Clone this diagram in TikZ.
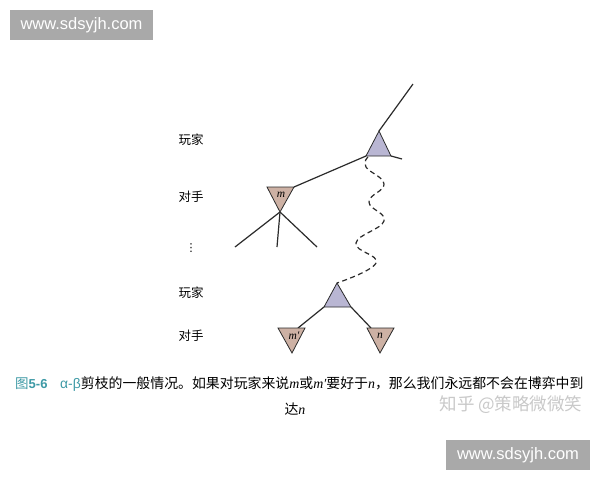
\documentclass[tikz,border=0pt]{standalone}
\usepackage{fontspec}
\setmainfont{Liberation Serif}
\newfontfamily\cjk{Noto Sans CJK SC}
\newfontfamily\wmfont{Liberation Sans}
\newfontfamily\symfont{DejaVu Sans}
\definecolor{wmgray}{HTML}{A9A9A9}
\definecolor{zhgray}{HTML}{C9C9C9}
\definecolor{capteal}{HTML}{3E9AA6}
\definecolor{maxfill}{HTML}{B9B6D3}
\definecolor{minfill}{HTML}{CDB1A4}
\definecolor{ink}{HTML}{2B2B2B}
\begin{document}
\begin{tikzpicture}[x=1pt,y=-1pt,
  wmbox/.style={fill=wmgray,text=white,minimum width=143pt,minimum height=30pt,inner sep=0pt,font=\wmfont\fontsize{16.5}{16.5}\selectfont},
  rowlabel/.style={font=\cjk\fontsize{12.5}{12.5}\selectfont,inner sep=0pt},
  edge/.style={draw=ink,line width=1.2pt},
  maxtri/.style={draw=ink,line width=0.8pt,fill=maxfill,line join=miter},
  mintri/.style={draw=ink,line width=0.8pt,fill=minfill,line join=miter},
  trilabel/.style={inner sep=0pt,font=\rmfamily\itshape\fontsize{11.5}{11.5}\selectfont},
  wavy/.style={draw=ink,line width=1.2pt,dash pattern=on 5pt off 3.5pt}
]
\useasboundingbox (0,0) rectangle (600,480);
\fill[white] (0,0) rectangle (600,480);

% watermarks
\node[wmbox] (wm1) at (81.5,25) {www.sdsyjh.com};
\node[wmbox,minimum width=144pt] (wm2) at (518,455) {www.sdsyjh.com};
\node[text=zhgray,inner sep=0pt,font=\cjk\fontsize{17.5}{17.5}\selectfont] (zh) at (511,405) {知乎 @策略微微笑};

% row labels
\node[rowlabel] (l1) at (191,140) {玩家};
\node[rowlabel] (l2) at (191,197) {对手};
\node[inner sep=0pt,font=\symfont\fontsize{11}{11}\selectfont] (l3) at (191,248) {⋮};
\node[rowlabel] (l4) at (191,293) {玩家};
\node[rowlabel] (l5) at (191,336) {对手};

% coordinates
\coordinate (topend) at (413,84);
\coordinate (Ta) at (379,131);
\coordinate (Tl) at (366,156);
\coordinate (Tr) at (391,156);
\coordinate (Tright) at (402,159);
\coordinate (Ml) at (267,187);
\coordinate (Mr) at (294,187);
\coordinate (Mb) at (280,212);
\coordinate (c1) at (235,247);
\coordinate (c2) at (277,247);
\coordinate (c3) at (317,247);
\coordinate (Ba) at (337,283);
\coordinate (Bl) at (324,307);
\coordinate (Br) at (351,307);
\coordinate (Pl) at (278,328);
\coordinate (Pr) at (305,328);
\coordinate (Pb) at (292,353);
\coordinate (Pin) at (298,328);
\coordinate (Nl) at (367,328);
\coordinate (Nr) at (394,328);
\coordinate (Nb) at (380,353);
\coordinate (Nin) at (371,328);
\coordinate (wstart) at (368,157);

% edges
\draw[edge] (topend) -- (Ta);
\draw[edge] (Tr) -- (Tright);
\draw[edge] (Tl) -- (Mr);
\draw[edge] (Mb) -- (c1);
\draw[edge] (Mb) -- (c2);
\draw[edge] (Mb) -- (c3);
\draw[edge] (Bl) -- (Pin);
\draw[edge] (Br) -- (Nin);
\draw[wavy] plot[smooth,tension=0.75] coordinates {(wstart) (366,167) (384,184) (369,202) (384,221) (356,243) (376,263) (Ba)};

% triangles
\draw[maxtri] (Ta) -- (Tl) -- (Tr) -- cycle;
\draw[mintri] (Ml) -- (Mr) -- (Mb) -- cycle;
\draw[maxtri] (Ba) -- (Bl) -- (Br) -- cycle;
\draw[mintri] (Pl) -- (Pr) -- (Pb) -- cycle;
\draw[mintri] (Nl) -- (Nr) -- (Nb) -- cycle;
\node[trilabel] (mlab) at (281,195) {m};
\node[trilabel] (mplab) at (294,336) {m′};
\node[trilabel] (nlab) at (380,336) {n};

% caption
\node[anchor=west,inner sep=0pt,text=capteal] (fig) at (15,384) {{\cjk\fontsize{13.5}{13.5}\selectfont 图}{\wmfont\bfseries\fontsize{13}{13}\selectfont 5-6}};
\node[anchor=west,inner sep=0pt] (cap1) at (60,384) {\fontsize{13.9}{13.9}\selectfont{\wmfont\color{capteal}α-β}\cjk 剪枝的一般情况。如果对玩家来说{\rmfamily\itshape m}或{\rmfamily\itshape m′}要好于{\rmfamily\itshape n}，那么我们永远都不会在博弈中到};
\node[inner sep=0pt] (cap2) at (295,409) {\fontsize{13.9}{13.9}\selectfont\cjk 达{\rmfamily\itshape n}};
\end{tikzpicture}
\end{document}
